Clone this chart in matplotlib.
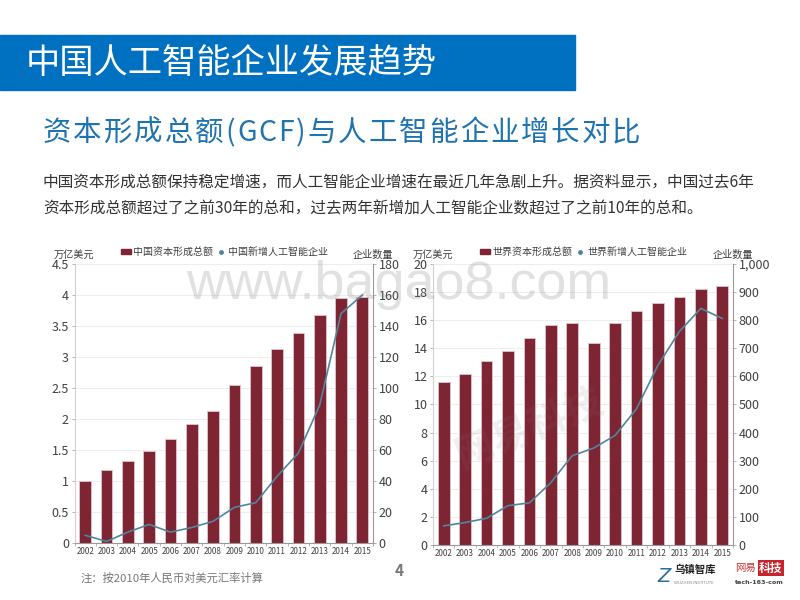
import matplotlib
matplotlib.use('Agg')
import matplotlib.pyplot as plt
from matplotlib.lines import Line2D
from matplotlib.patches import Patch, Rectangle

plt.rcParams['font.family'] = ['Noto Sans CJK SC', 'DejaVu Sans']

years = ['2002', '2003', '2004', '2005', '2006', '2007', '2008',
         '2009', '2010', '2011', '2012', '2013', '2014', '2015']

# 左图 China
china_gcf = [1.0, 1.17, 1.33, 1.48, 1.68, 1.92, 2.13, 2.55, 2.86, 3.13, 3.38, 3.68, 3.95, 3.96]
china_ai = [5, 1, 7, 12, 7, 10, 14, 23, 26, 43, 58, 89, 148, 160]
china_left_ticks = [0, 0.5, 1, 1.5, 2, 2.5, 3, 3.5, 4, 4.5]
china_left_labels = ['0', '0.5', '1', '1.5', '2', '2.5', '3', '3.5', '4', '4.5']
china_right_ticks = [0, 20, 40, 60, 80, 100, 120, 140, 160, 180]
china_right_labels = ['0', '20', '40', '60', '80', '100', '120', '140', '160', '180']

# 右图 World
world_gcf = [11.6, 12.2, 13.1, 13.8, 14.75, 15.65, 15.8, 14.35, 15.8, 16.65, 17.2, 17.65, 18.25, 18.4]
world_ai = [68, 80, 95, 140, 150, 222, 318, 345, 390, 485, 640, 760, 842, 806]
world_left_ticks = [0, 2, 4, 6, 8, 10, 12, 14, 16, 18, 20]
world_left_labels = ['0', '2', '4', '6', '8', '10', '12', '14', '16', '18', '20']
world_right_ticks = [0, 100, 200, 300, 400, 500, 600, 700, 800, 900, 1000]
world_right_labels = ['0', '100', '200', '300', '400', '500', '600', '700', '800', '900', '1,000']

subtitle = '资本形成总额(GCF)与人工智能企业增长对比'

BAR = '#7e2533'
LINE = '#4f869f'
TEXT = '#404040'

fig = plt.figure(figsize=(8, 6), dpi=100)


def px_axes(x0, y0, x1, y1):
    # 像素坐标（左上角为原点）转成 figure 坐标
    return fig.add_axes([x0 / 800, 1 - y1 / 600, (x1 - x0) / 800, (y1 - y0) / 600])


def px_text(x, y, s, **kw):
    kw.setdefault('va', 'center')
    return fig.text(x / 800, 1 - y / 600, s, **kw)


def spaced_text(x, y, s, gap, **kw):
    # 标题有字间距，逐字放
    renderer = fig.canvas.get_renderer()
    for ch in s:
        t = px_text(x, y, ch, **kw)
        x += t.get_window_extent(renderer).width + gap


def draw_chart(box, gcf, ai, l_ticks, l_labels, r_ticks, r_labels, bar_name, line_name, legend_x):
    ax = px_axes(*box)
    ax.bar(range(len(years)), gcf, width=0.55, color=BAR, edgecolor='#e6c4c8', linewidth=0.6, zorder=2)
    ax.set_xlim(-0.5, len(years) - 0.5)
    ax.set_ylim(l_ticks[0], l_ticks[-1])
    ax.set_yticks(l_ticks)
    ax.set_yticklabels(l_labels, fontsize=9, color=TEXT)
    ax.set_xticks(range(len(years)))
    ax.set_xticklabels(years, fontsize=5.8, color=TEXT)
    ax.set_xticks([i - 0.5 for i in range(len(years) + 1)], minor=True)
    ax.tick_params(axis='x', which='major', length=0, pad=3)
    ax.tick_params(axis='x', which='minor', length=2, width=0.5, color='#999999')
    ax.tick_params(axis='y', length=2.5, width=0.5, color='#999999', pad=1.5)
    ax.grid(axis='y', color='#eeeeee', linewidth=0.8, zorder=0)
    ax.set_axisbelow(True)
    ax.spines['top'].set_visible(False)
    ax.spines['right'].set_visible(False)
    ax.spines['left'].set_color('#d0d0d0')
    ax.spines['bottom'].set_color('#999999')

    ax2 = ax.twinx()
    ax2.plot(range(len(years)), ai, color=LINE, linewidth=1.2, zorder=3)
    ax2.set_ylim(r_ticks[0], r_ticks[-1])
    ax2.set_yticks(r_ticks)
    ax2.set_yticklabels(r_labels, fontsize=9, color=TEXT)
    ax2.tick_params(axis='y', length=2.5, width=0.5, color='#999999', pad=1.5)
    ax2.spines['top'].set_visible(False)
    ax2.spines['left'].set_visible(False)
    ax2.spines['bottom'].set_visible(False)
    ax2.spines['right'].set_color('#999999')

    handles = [Patch(color=BAR, label=bar_name),
               Line2D([], [], color=LINE, marker='o', markersize=2.5, linestyle='none', label=line_name)]
    fig.legend(handles=handles, loc='center left', bbox_to_anchor=(legend_x / 800, 1 - 252 / 600),
               ncol=2, frameon=False, fontsize=7.2, labelcolor=TEXT, handlelength=1.0, handleheight=0.5,
               handletextpad=0.25, columnspacing=0.2, borderpad=0, borderaxespad=0)

    px_text(box[0] - 20.5, 254.5, '万亿美元', fontsize=7.3, color=TEXT)
    px_text(box[2] - 20.5, 254.5, '企业数量', fontsize=7.3, color=TEXT)


draw_chart((74.5, 264, 373, 543), china_gcf, china_ai, china_left_ticks, china_left_labels,
           china_right_ticks, china_right_labels, '中国资本形成总额', '中国新增人工智能企业', 121)
draw_chart((433, 264, 733, 545), world_gcf, world_ai, world_left_ticks, world_left_labels,
           world_right_ticks, world_right_labels, '世界资本形成总额', '世界新增人工智能企业', 480)

# 顶部蓝条和标题
fig.add_artist(Rectangle((0, 1 - 90 / 600), 575 / 800, 55 / 600, transform=fig.transFigure,
                         color='#0070c0', zorder=0))
px_text(26, 64, '中国人工智能企业发展趋势', fontsize=24.7, color='white')
spaced_text(43, 133, subtitle, 1.9, fontsize=20.5, color='#1f74b0')
px_text(43, 182.5, '中国资本形成总额保持稳定增速，而人工智能企业增速在最近几年急剧上升。据资料显示，中国过去6年',
        fontsize=11.27, color='#333333')
px_text(43, 209, '资本形成总额超过了之前30年的总和，过去两年新增加人工智能企业数超过了之前10年的总和。',
        fontsize=11.27, color='#333333')

# 水印
px_text(399, 285, 'www.bagao8.com', fontsize=38.8, color='#888888', alpha=0.25, ha='center',
        family='Liberation Sans', zorder=10)
px_text(530, 428, '网易科技', fontsize=28, color='#777777', alpha=0.12, ha='center', rotation=22,
        fontweight='bold', zorder=10)

# 底部
px_text(81, 578, '注：按2010年人民币对美元汇率计算', fontsize=8.15, color='#777777')
px_text(399, 571, '4', fontsize=11, color='#777777', ha='center', fontweight='bold')
px_text(664, 576, 'Z', fontsize=14, color='#2a6f9e', ha='center', style='italic', family='DejaVu Sans')
px_text(674, 570, '乌镇智库', fontsize=7.5, color='#222222', fontweight='bold')
px_text(674, 583, 'WUZHEN INSTITUTE', fontsize=2.9, color='#888888', family='DejaVu Sans')
px_text(735, 568, '网易', fontsize=7.5, color='#cc3333')
px_text(759, 568, '科技', fontsize=8.5, color='white', fontweight='bold',
        bbox=dict(facecolor='#c8242b', edgecolor='none', pad=1))
px_text(735, 582, 'tech-163-com', fontsize=4.6, color='#444444', family='DejaVu Sans', fontweight='bold')

fig.savefig('out.png', dpi=100)
